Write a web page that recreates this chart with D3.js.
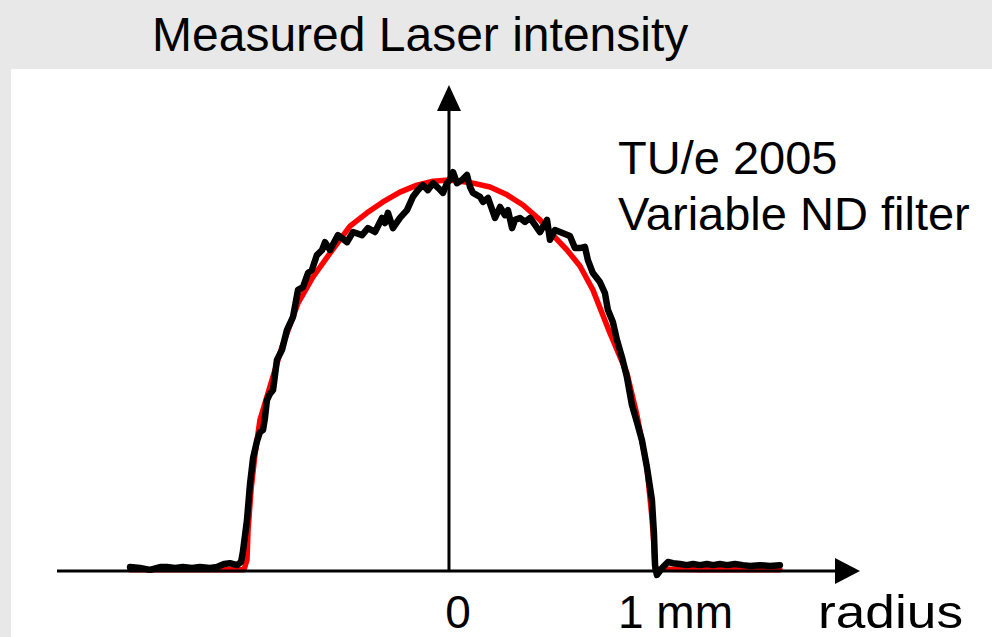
<!DOCTYPE html>
<html>
<head>
<meta charset="utf-8">
<script src="https://cdn.jsdelivr.net/npm/d3@7"></script>
<style>
  html, body { margin: 0; padding: 0; background: #e8e8e8; }
  svg { display: block; }
  text { font-family: Arial, "Liberation Sans", Helvetica, sans-serif; fill: #000; }
</style>
</head>
<body>
<svg id="chart" width="992" height="637"></svg>
<script>
// ---- Data (radius in mm, normalized intensity) ----
const titleText = "Measured Laser intensity";
const noteLines = ["TU/e 2005", "Variable ND filter"];
const tickValues = [0, 1];
const tickLabels = ["0", "1 mm"];
const axisLabel = "radius";

// measured profile (black)
const measuredR = [-1.724,-1.670,-1.616,-1.562,-1.524,-1.481,-1.438,-1.389,-1.346,-1.292,
  -1.254,-1.216,-1.184,-1.146,-1.124,-1.114,-1.092,-1.076,-1.059,-1.038,
  -1.022,-1.005,-0.995,-0.984,-0.968,-0.951,-0.930,-0.903,-0.876,-0.843,
  -0.816,-0.789,-0.762,-0.741,-0.714,-0.686,-0.670,-0.643,-0.600,-0.551,
  -0.519,-0.470,-0.438,-0.400,-0.362,-0.346,-0.330,-0.303,-0.265,-0.227,
  -0.195,-0.168,-0.141,-0.114,-0.086,-0.059,-0.032,-0.011,0.005,0.022,
  0.043,0.070,0.097,0.114,0.130,0.168,0.184,0.211,0.249,0.276,
  0.303,0.319,0.341,0.357,0.384,0.411,0.438,0.465,0.492,0.530,
  0.546,0.573,0.600,0.627,0.654,0.681,0.708,0.735,0.751,0.778,
  0.816,0.843,0.859,0.886,0.908,0.935,0.962,0.989,1.016,1.043,
  1.070,1.097,1.108,1.114,1.124,1.157,1.184,1.211,1.249,1.286,
  1.319,1.357,1.395,1.427,1.465,1.503,1.546,1.589,1.627,1.681,
  1.735,1.789];
const measuredI = [0.010,0.008,0.003,0.010,0.010,0.008,0.010,0.008,0.010,0.008,
  0.010,0.018,0.020,0.015,0.023,0.049,0.130,0.220,0.289,0.332,
  0.355,0.361,0.391,0.437,0.453,0.463,0.540,0.565,0.616,0.650,
  0.719,0.726,0.762,0.770,0.808,0.821,0.841,0.821,0.859,0.841,
  0.867,0.859,0.877,0.867,0.903,0.890,0.916,0.877,0.903,0.923,
  0.957,0.974,0.987,0.974,0.992,0.980,0.967,0.992,1.000,1.020,
  0.992,1.000,1.013,0.982,0.967,0.957,0.944,0.954,0.903,0.931,
  0.910,0.923,0.877,0.898,0.903,0.893,0.903,0.885,0.867,0.898,
  0.847,0.872,0.867,0.862,0.857,0.826,0.826,0.829,0.795,0.762,
  0.739,0.711,0.668,0.637,0.591,0.547,0.496,0.425,0.381,0.335,
  0.266,0.182,0.097,0.015,-0.010,0.010,0.023,0.020,0.018,0.015,
  0.018,0.015,0.018,0.015,0.018,0.015,0.018,0.015,0.013,0.015,
  0.013,0.015];

// fitted profile (red)
const fitR = [-1.724,-1.346,-1.108,-1.092,-1.086,-1.070,-1.049,-1.022,-0.968,-0.903,
  -0.816,-0.735,-0.643,-0.535,-0.443,-0.357,-0.265,-0.173,-0.086,0.000,
  0.059,0.130,0.222,0.314,0.400,0.492,0.562,0.638,0.708,0.778,
  0.870,0.962,1.016,1.070,1.097,1.108,1.114,1.357,1.789];
const fitI = [0.003,0.003,0.003,0.028,0.105,0.207,0.297,0.386,0.471,0.573,
  0.685,0.752,0.813,0.882,0.916,0.944,0.969,0.987,0.997,1.000,
  0.997,0.992,0.982,0.962,0.936,0.898,0.859,0.821,0.780,0.719,
  0.609,0.506,0.399,0.266,0.138,0.066,0.005,0.003,0.003];

const xDomain = [-2.119, 2.222];
const yDomain = [0, 1.243];

// ---- Drawing ----
const svg = d3.select("#chart");
const W = 992, H = 637;

svg.append("rect").attr("x", 0).attr("y", 0).attr("width", W).attr("height", H).attr("fill", "#e8e8e8");
svg.append("rect").attr("x", 11).attr("y", 69).attr("width", W - 11).attr("height", H - 69).attr("fill", "#ffffff");

svg.append("text").attr("x", 152).attr("y", 51).attr("font-size", 48).text(titleText);

const x = d3.scaleLinear().domain(xDomain).range([57, 860]);
const y = d3.scaleLinear().domain(yDomain).range([571, 85]);

const fitData = fitR.map((r, i) => [r, fitI[i]]);
const measData = measuredR.map((r, i) => [r, measuredI[i]]);
const line = d3.line().x(d => x(d[0])).y(d => y(d[1]));

// fit (red)
svg.append("path").datum(fitData).attr("d", line)
  .attr("fill", "none").attr("stroke", "#ff0000").attr("stroke-width", 5.5)
  .attr("stroke-linejoin", "round").attr("stroke-linecap", "round");

// horizontal axis
const x0 = x(xDomain[0]), x1 = x(xDomain[1]), yb = y(0);
svg.append("line").attr("x1", x0).attr("x2", x1 - 20).attr("y1", yb).attr("y2", yb)
  .attr("stroke", "#000").attr("stroke-width", 3);
svg.append("path").attr("d", `M${x1},${yb} L${x1 - 25},${yb - 13} L${x1 - 25},${yb + 13} Z`).attr("fill", "#000");

// vertical axis
const xa = x(0), yt = y(yDomain[1]);
svg.append("line").attr("x1", xa).attr("x2", xa).attr("y1", yb).attr("y2", yt + 20)
  .attr("stroke", "#000").attr("stroke-width", 3);
svg.append("path").attr("d", `M${xa},${yt} L${xa - 12},${yt + 26} L${xa + 12},${yt + 26} Z`).attr("fill", "#000");

// measured (black)
svg.append("path").datum(measData).attr("d", line)
  .attr("fill", "none").attr("stroke", "#000").attr("stroke-width", 6.5)
  .attr("stroke-linejoin", "round").attr("stroke-linecap", "round");

// tick labels
svg.append("text").attr("x", x(tickValues[0]) + 9).attr("y", 628).attr("font-size", 46)
  .attr("text-anchor", "middle").text(tickLabels[0]);
svg.append("text").attr("x", x(tickValues[1]) - 16).attr("y", 628).attr("font-size", 46)
  .attr("text-anchor", "start").text(tickLabels[1]);
svg.append("text").attr("x", 818).attr("y", 628).attr("font-size", 47)
  .attr("textLength", 145).attr("lengthAdjust", "spacingAndGlyphs")
  .attr("text-anchor", "start").text(axisLabel);

// note
svg.selectAll("text.note").data(noteLines).enter().append("text")
  .attr("class", "note").attr("x", 618).attr("y", (d, i) => 174 + i * 56)
  .attr("font-size", 47).text(d => d);
</script>
</body>
</html>
